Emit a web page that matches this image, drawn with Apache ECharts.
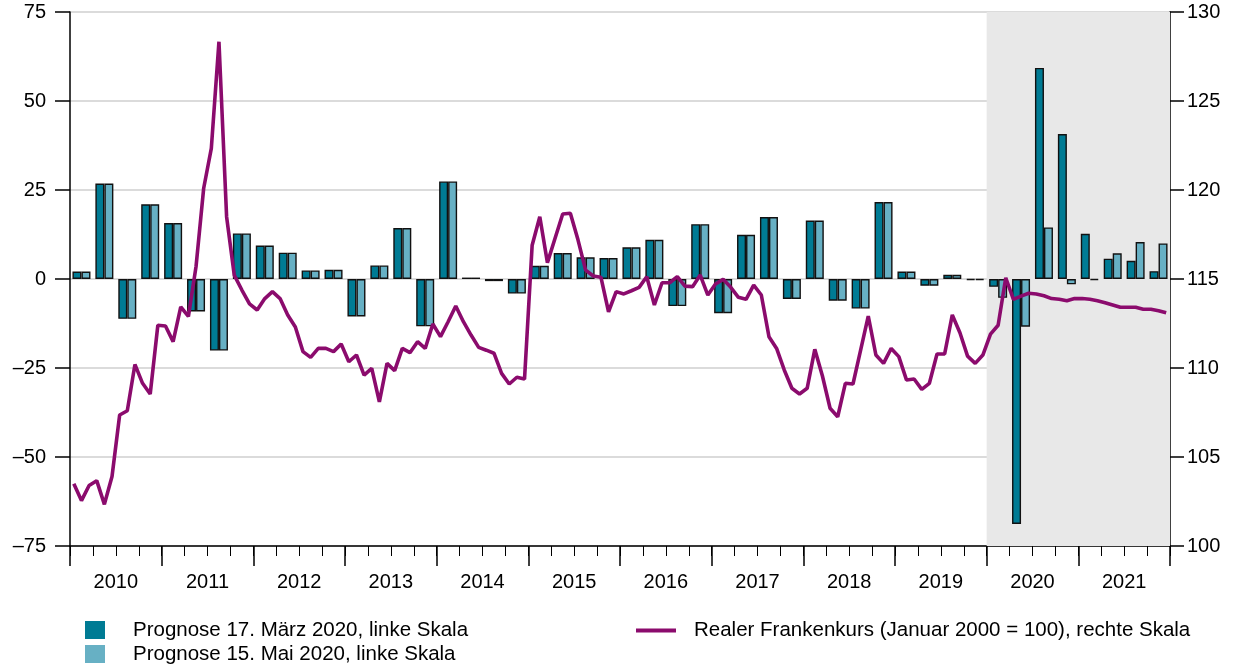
<!DOCTYPE html>
<html>
<head>
<meta charset="utf-8">
<script src="https://cdn.jsdelivr.net/npm/echarts/dist/echarts.min.js"></script>
<style>
  html, body { margin: 0; padding: 0; background: #fff; }
  #chart { width: 1243px; height: 669px; }
</style>
</head>
<body>
<div id="chart"></div>
<script>
// Jahre (Achsenbeschriftung)
var years = ['2010', '2011', '2012', '2013', '2014', '2015', '2016', '2017', '2018', '2019', '2020', '2021'];

// Quartalswerte, linke Skala
var prognoseMaerz = [
  2.1, 26.8, -11.2, 21.0,
  15.7, -9.1, -20.1, 12.8,
  9.4, 7.4, 2.4, 2.6,
  -10.5, 3.8, 14.3, -13.3,
  27.4, 0.4, -0.6, -4.1,
  3.7, 7.3, 6.1, 5.9,
  8.9, 11.0, -7.6, 15.4,
  -9.6, 12.4, 17.4, -5.6,
  16.4, -6.1, -8.3, 21.6,
  2.1, -1.9, 1.2, -0.3,
  -2.2, -68.8, 59.3, 40.7,
  12.7, 5.7, 5.1, 2.2
];
var prognoseMai = [
  2.1, 26.8, -11.2, 21.0,
  15.7, -9.1, -20.1, 12.8,
  9.4, 7.4, 2.4, 2.6,
  -10.5, 3.8, 14.3, -13.3,
  27.4, 0.4, -0.6, -4.1,
  3.7, 7.3, 6.1, 5.9,
  8.9, 11.0, -7.6, 15.4,
  -9.6, 12.4, 17.4, -5.6,
  16.4, -6.1, -8.3, 21.6,
  2.1, -1.9, 1.2, -0.3,
  -5.3, -13.4, 14.5, -1.5,
  -0.3, 7.2, 10.4, 10.0
];

// Monatswerte Realer Frankenkurs, rechte Skala (Jan 2010 - Dez 2021)
var frankenkurs = [
  103.5, 102.55, 103.4, 103.67, 102.34, 103.9, 107.36, 107.6, 110.2, 109.14, 108.54, 112.4,
  112.36, 111.48, 113.44, 112.9, 115.7, 120.1, 122.34, 128.33, 118.5, 115.22, 114.38, 113.6,
  113.26, 113.9, 114.29, 113.9, 112.98, 112.3, 110.92, 110.6, 111.1, 111.1, 110.92, 111.35,
  110.35, 110.73, 109.6, 109.98, 108.1, 110.26, 109.85, 111.1, 110.86, 111.48, 111.1, 112.47,
  111.76, 112.6, 113.48, 112.6, 111.85, 111.16, 111.0, 110.83, 109.7, 109.1, 109.48, 109.38,
  116.9, 118.5, 115.92, 117.29, 118.65, 118.69, 117.2, 115.5, 115.17, 115.1, 113.16, 114.29,
  114.16, 114.34, 114.53, 115.13, 113.54, 114.79, 114.79, 115.13, 114.6, 114.57, 115.22, 114.1,
  114.72, 114.98, 114.53, 113.97, 113.86, 114.66, 114.1, 111.76, 111.1, 109.89, 108.86, 108.54,
  108.86, 111.05, 109.55, 107.74, 107.26, 109.14, 109.1, 111.0, 112.92, 110.73, 110.26, 111.1,
  110.64, 109.33, 109.38, 108.8, 109.14, 110.79, 110.79, 112.98, 111.98, 110.67, 110.26, 110.73,
  111.9, 112.4, 115.07, 113.86, 114.04, 114.2, 114.16, 114.06, 113.9, 113.86, 113.78, 113.9,
  113.9, 113.86, 113.78, 113.67, 113.54, 113.41, 113.41, 113.41, 113.3, 113.3, 113.22, 113.1
];

var quarters = [];
years.forEach(function (y) {
  for (var q = 1; q <= 4; q++) quarters.push(y + ' Q' + q);
});
var kursPunkte = frankenkurs.map(function (v, i) { return [i + 0.5, v]; });

var font = 'Liberation Sans, Arial, Helvetica, sans-serif';
var nameMaerz = 'Prognose 17. März 2020, linke Skala';
var nameMai = 'Prognose 15. Mai 2020, linke Skala';
var nameKurs = 'Realer Frankenkurs (Januar 2000 = 100), rechte Skala';

var legendText = { fontSize: 20.5, color: '#000', fontFamily: font, padding: [0, 0, 0, 23] };

var myChart = echarts.init(document.getElementById('chart'));
var option = {
  animation: false,
  textStyle: { fontFamily: font },
  grid: { left: 70, right: 73, top: 12, bottom: 123 },
  legend: [{
    data: [nameMaerz],
    left: 85, top: 619.5, padding: 0,
    icon: 'rect', itemWidth: 20, itemHeight: 18,
    itemStyle: { borderWidth: 0 },
    textStyle: legendText
  }, {
    data: [nameMai],
    left: 85, top: 643.5, padding: 0,
    icon: 'rect', itemWidth: 20, itemHeight: 18,
    itemStyle: { borderWidth: 0 },
    textStyle: legendText
  }, {
    data: [nameKurs],
    left: 636, top: 620, padding: 0,
    icon: 'rect', itemWidth: 40, itemHeight: 4,
    textStyle: { fontSize: 20.5, color: '#000', fontFamily: font, padding: [0, 0, 0, 13] }
  }],
  xAxis: [{
    // Jahre: Beschriftung und lange Striche
    type: 'category',
    data: years,
    position: 'bottom',
    boundaryGap: true,
    axisLine: { show: false, onZero: false },
    axisTick: { show: true, interval: 0, length: 20, lineStyle: { color: '#000', width: 1.5 } },
    axisLabel: { interval: 0, fontSize: 20, color: '#000', margin: 26, fontFamily: font },
    splitLine: { show: false }
  }, {
    // Quartale: Balken
    type: 'category',
    data: quarters,
    position: 'bottom',
    boundaryGap: true,
    axisLine: { show: true, onZero: false, lineStyle: { color: '#000', width: 1.5 } },
    axisTick: { show: true, interval: 0, length: 10, lineStyle: { color: '#000', width: 1 } },
    axisLabel: { show: false },
    splitLine: { show: false }
  }, {
    // Monate: Linie
    type: 'value',
    position: 'bottom',
    min: 0, max: 144,
    show: false
  }],
  yAxis: [{
    type: 'value',
    min: -75, max: 75, interval: 25,
    position: 'left',
    axisLine: { show: true, lineStyle: { color: '#000', width: 1.5 } },
    axisTick: { show: true, length: 15, lineStyle: { color: '#000', width: 1.5 } },
    axisLabel: {
      fontSize: 20, color: '#000', margin: 24, fontFamily: font,
      formatter: function (v) { return v < 0 ? '\u2013' + Math.abs(v) : String(v); }
    },
    splitLine: { show: true, lineStyle: { color: '#cfcfcf', width: 1.5 } }
  }, {
    type: 'value',
    min: 100, max: 130, interval: 5,
    position: 'right',
    axisLine: { show: true, lineStyle: { color: '#000', width: 1.5 } },
    axisTick: { show: true, length: 14, lineStyle: { color: '#000', width: 1.5 } },
    axisLabel: { fontSize: 20, color: '#000', margin: 17, fontFamily: font },
    splitLine: { show: false }
  }],
  series: [{
    name: 'Prognosezeitraum',
    type: 'line',
    xAxisIndex: 2, yAxisIndex: 1,
    data: [],
    z: -1,
    markArea: {
      silent: true,
      itemStyle: { color: '#e8e8e8' },
      data: [[{ xAxis: 120 }, { xAxis: 144 }]]
    }
  }, {
    name: nameMaerz,
    type: 'bar',
    xAxisIndex: 1, yAxisIndex: 0,
    data: prognoseMaerz,
    barWidth: 9,
    barGap: '0%',
    itemStyle: { color: '#007b94', borderColor: '#111', borderWidth: 1.4 }
  }, {
    name: nameMai,
    type: 'bar',
    xAxisIndex: 1, yAxisIndex: 0,
    data: prognoseMai,
    barWidth: 9,
    barGap: '0%',
    itemStyle: { color: '#67b0c4', borderColor: '#111', borderWidth: 1.4 }
  }, {
    name: nameKurs,
    type: 'line',
    xAxisIndex: 2, yAxisIndex: 1,
    data: kursPunkte,
    showSymbol: false,
    z: 5,
    itemStyle: { color: '#8b0b6d' },
    lineStyle: { color: '#8b0b6d', width: 3.6 }
  }]
};
myChart.setOption(option);
</script>
</body>
</html>
